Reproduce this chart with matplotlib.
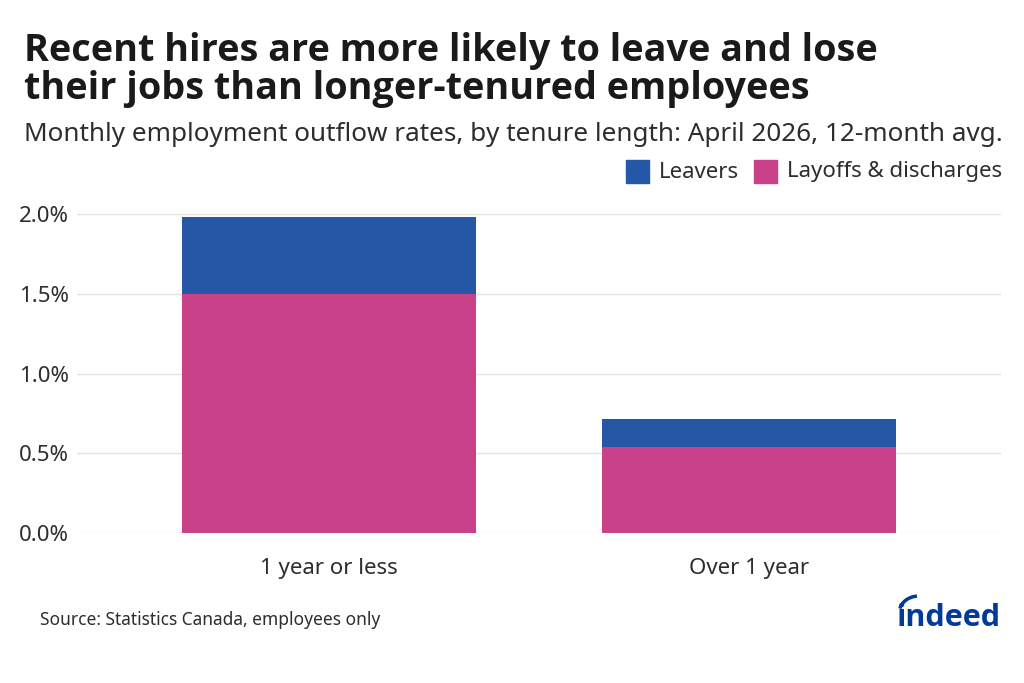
import numpy as np
import matplotlib.pyplot as plt
from matplotlib.patches import Arc

plt.rcParams['font.family'] = ['Noto Sans', 'DejaVu Sans']

categories = ['1 year or less', 'Over 1 year']
layoffs = [1.50, 0.537]
leavers = [0.48, 0.180]
yticks = [0.0, 0.5, 1.0, 1.5, 2.0]

blue = '#2557A7'
pink = '#C94189'
bold_font = ['Open Sans', 'Noto Sans', 'DejaVu Sans']

fig = plt.figure(figsize=(10.24, 6.83), dpi=100)
ax = fig.add_axes([77/1024, 1-533/683, 924/1024, 319/683])

x = np.arange(len(categories))
ax.bar(x, layoffs, width=0.70, color=pink, zorder=3)
ax.bar(x, leavers, width=0.70, bottom=layoffs, color=blue, zorder=3)

ax.set_xlim(-0.6, 1.6)
ax.set_ylim(0, 2.0)
ax.set_yticks(yticks)
ax.set_yticklabels(['%.1f%%' % v for v in yticks])
ax.set_xticks(x)
ax.set_xticklabels(categories)
ax.tick_params(axis='both', length=0, labelsize=16, labelcolor='#2d2d2d')
ax.tick_params(axis='x', pad=18)
ax.tick_params(axis='y', pad=6)
ax.grid(axis='y', color='#e4e2e0', linewidth=1, zorder=0)
for s in ax.spines.values():
    s.set_visible(False)

fig.text(24/1024, 1-61/683, 'Recent hires are more likely to leave and lose',
         fontsize=27.2, fontweight='bold', family=bold_font, color='#1a1a1a', va='baseline')
fig.text(24/1024, 1-99/683, 'their jobs than longer-tenured employees',
         fontsize=27.2, fontweight='bold', family=bold_font, color='#1a1a1a', va='baseline')
fig.text(24/1024, 1-141/683, 'Monthly employment outflow rates, by tenure length: April 2026, 12-month avg.',
         fontsize=18.8, color='#2d2d2d', va='baseline')

# legend
lx = [626, 754]
labels = ['Leavers', 'Layoffs & discharges']
cols = [blue, pink]
for px, lab, c in zip(lx, labels, cols):
    fig.patches.append(plt.Rectangle((px/1024, 1-183/683), 23/1024, 23/683,
                                     transform=fig.transFigure, color=c, figure=fig))
    fig.text((px+33)/1024, 1-172/683, lab, fontsize=16, color='#2d2d2d', va='center')

fig.text(40/1024, 1-620/683, 'Source: Statistics Canada, employees only', fontsize=12.5, color='#2d2d2d', va='center')

# logo
fig.text(1001/1024, 1-626/683, 'indeed', fontsize=22, fontweight='bold', family=bold_font,
         color='#003A9B', ha='right', va='baseline')
arc_ax = fig.add_axes([895/1024, 1-612/683, 30/1024, 20/683])
arc_ax.add_patch(Arc((0.8, 0.0), 1.3, 1.6, theta1=95, theta2=165, color='#003A9B', linewidth=2.5))
arc_ax.set_xlim(0, 1)
arc_ax.set_ylim(0, 1)
arc_ax.axis('off')

fig.savefig('out.png', dpi=100)
